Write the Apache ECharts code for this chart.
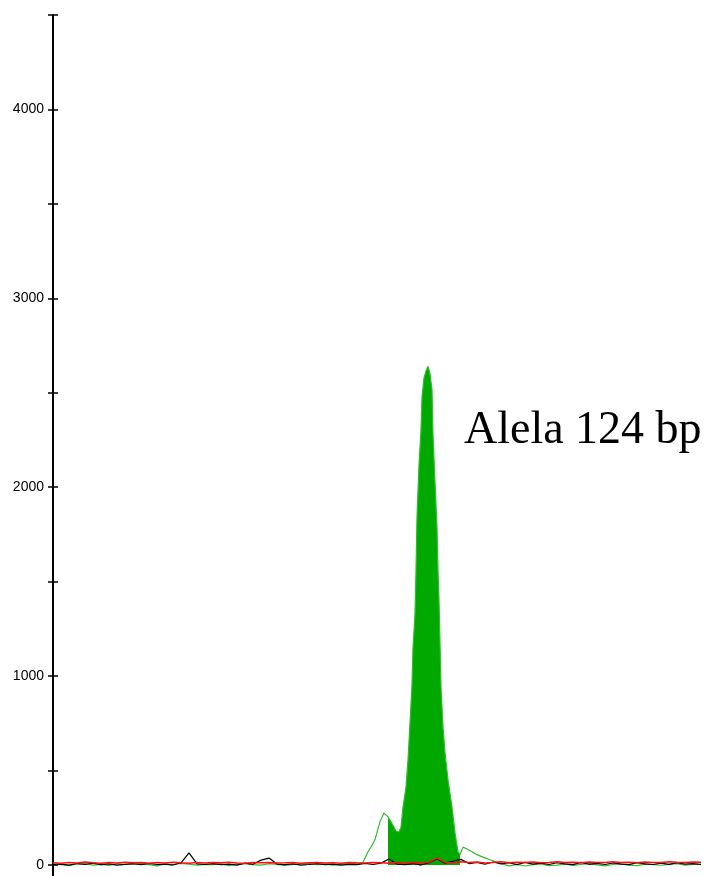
<!DOCTYPE html>
<html>
<head>
<meta charset="utf-8">
<script src="https://cdn.jsdelivr.net/npm/echarts@6/dist/echarts.min.js"></script>
<style>
html,body{margin:0;padding:0;background:#fff;}
#chart{width:707px;height:876px;}
</style>
</head>
<body>
<div id="chart"></div>
<script>
// ---- data (x in scan units, y in RFU) ----
const yTickValues = [0, 500, 1000, 1500, 2000, 2500, 3000, 3500, 4000, 4500];
const yLabelValues = [0, 1000, 2000, 3000, 4000];
const annotationText = 'Alela 124 bp';

// baseline traces sampled every 8 scan units from 0 to 648
const baseScan = Array.from({length: 82}, (_, i) => i * 8);
const blackValues = [
  2,5,0,8,3,10,2,6,0,4,
  7,2,9,3,5,0,12,64,6,3,
  8,2,5,0,10,4,26,37,5,2,
  6,0,3,8,2,5,0,4,2,9,
  3,10,32,5,2,8,0,12,32,10,
  20,30,8,14,4,16,6,12,2,14,
  5,10,3,12,6,2,14,4,9,3,
  11,5,2,13,6,3,10,4,12,5,
  8,3
];
const redValues = [
  12,10,14,11,16,12,10,13,11,15,
  12,14,10,13,11,15,12,10,14,11,
  13,12,15,11,10,14,12,13,11,12,
  14,10,12,13,11,12,10,14,12,11,
  13,12,10,14,11,13,12,15,37,14,
  12,18,13,16,11,14,18,12,15,13,
  16,12,14,17,13,15,12,16,14,13,
  17,13,15,12,16,14,13,17,15,14,
  16,15
];

// green trace
const greenScan = [
  0,8,16,24,32,40,48,56,64,72,
  80,88,96,104,112,120,128,136,144,152,
  160,168,176,184,192,200,208,216,224,232,
  240,248,256,264,272,280,288,296,304,
  310,315,319,322,327,331,335,340,343,346,348,350,353,355,357,359,360,362,363,364,
  366,368,369,371,373,375,377,379,380,382,384,385,386,387,388,390,392,395,399,402,
  405,407,410,414,419,424,430,437,444,450,
  456,464,472,480,488,496,504,512,520,528,536,544,552,560,568,576,584,592,600,608,
  616,624,632,640,648
];
const greenValues = [
  5,2,-3,6,8,0,4,-2,7,3,
  5,8,2,-4,6,3,9,5,0,4,
  2,6,-3,5,8,2,0,7,4,-2,
  3,6,8,2,5,0,4,9,6,
  15,70,105,135,230,275,255,210,180,175,200,305,413,556,752,953,1150,1330,1560,1843,
  2118,2304,2478,2579,2615,2640,2600,2516,2277,2028,1785,1560,1403,1176,943,731,593,450,307,170,
  69,55,95,85,70,55,42,28,16,5,
  -4,3,-5,2,6,-3,0,5,-2,4,8,1,-4,3,6,0,-3,5,2,-1,
  4,7,0,3,5
];
// filled (integrated) peak region, in scan units
const fillStart = 335;
const fillEnd = 407;

// ---- build ----
const pair = (xs, ys) => xs.map((x, i) => [x, ys[i]]);
const greenData = pair(greenScan, greenValues);
const fillData = greenData.filter(p => p[0] >= fillStart && p[0] <= fillEnd);

const chart = echarts.init(document.getElementById('chart'), null, {renderer: 'canvas'});
const yBase = {
  type: 'value', min: -58, max: 4500, position: 'left',
  splitLine: {show: false}
};
chart.setOption({
  animation: false,
  backgroundColor: '#ffffff',
  grid: {left: 53, right: 0, top: 15, bottom: 0, containLabel: false},
  xAxis: {type: 'value', min: 0, max: 654, show: false},
  yAxis: [
    Object.assign({}, yBase, {
      axisLine: {show: true, lineStyle: {color: '#000', width: 2}},
      axisTick: {show: true, inside: false, length: 5, customValues: yTickValues,
                 lineStyle: {color: '#000', width: 1.5}},
      axisLabel: {show: true, customValues: yLabelValues, margin: 9,
                  formatter: v => String(v),
                  color: '#000', fontSize: 14, fontFamily: 'Liberation Sans, Arial, sans-serif'}
    }),
    Object.assign({}, yBase, {
      axisLine: {show: false},
      axisTick: {show: true, inside: true, length: 5, customValues: yTickValues,
                 lineStyle: {color: '#000', width: 1.5}},
      axisLabel: {show: false}
    })
  ],
  series: [
    {
      type: 'line', data: fillData, symbol: 'none', silent: true,
      lineStyle: {width: 0}, areaStyle: {color: '#00a800', opacity: 1}, z: 2
    },
    {
      type: 'line', data: greenData, symbol: 'none', silent: true,
      lineStyle: {color: '#2dbd2d', width: 1.2}, z: 3
    },
    {
      type: 'line', data: pair(baseScan, blackValues), symbol: 'none', silent: true,
      lineStyle: {color: '#000', width: 1.2}, z: 4
    },
    {
      type: 'line', data: pair(baseScan, redValues), symbol: 'none', silent: true,
      lineStyle: {color: '#ff1010', width: 1.5}, z: 5
    }
  ],
  graphic: [{
    type: 'text', left: 464, top: 408,
    style: {text: annotationText, fill: '#000', font: '46px "Liberation Serif", "Times New Roman", serif'}
  }]
});
</script>
</body>
</html>
